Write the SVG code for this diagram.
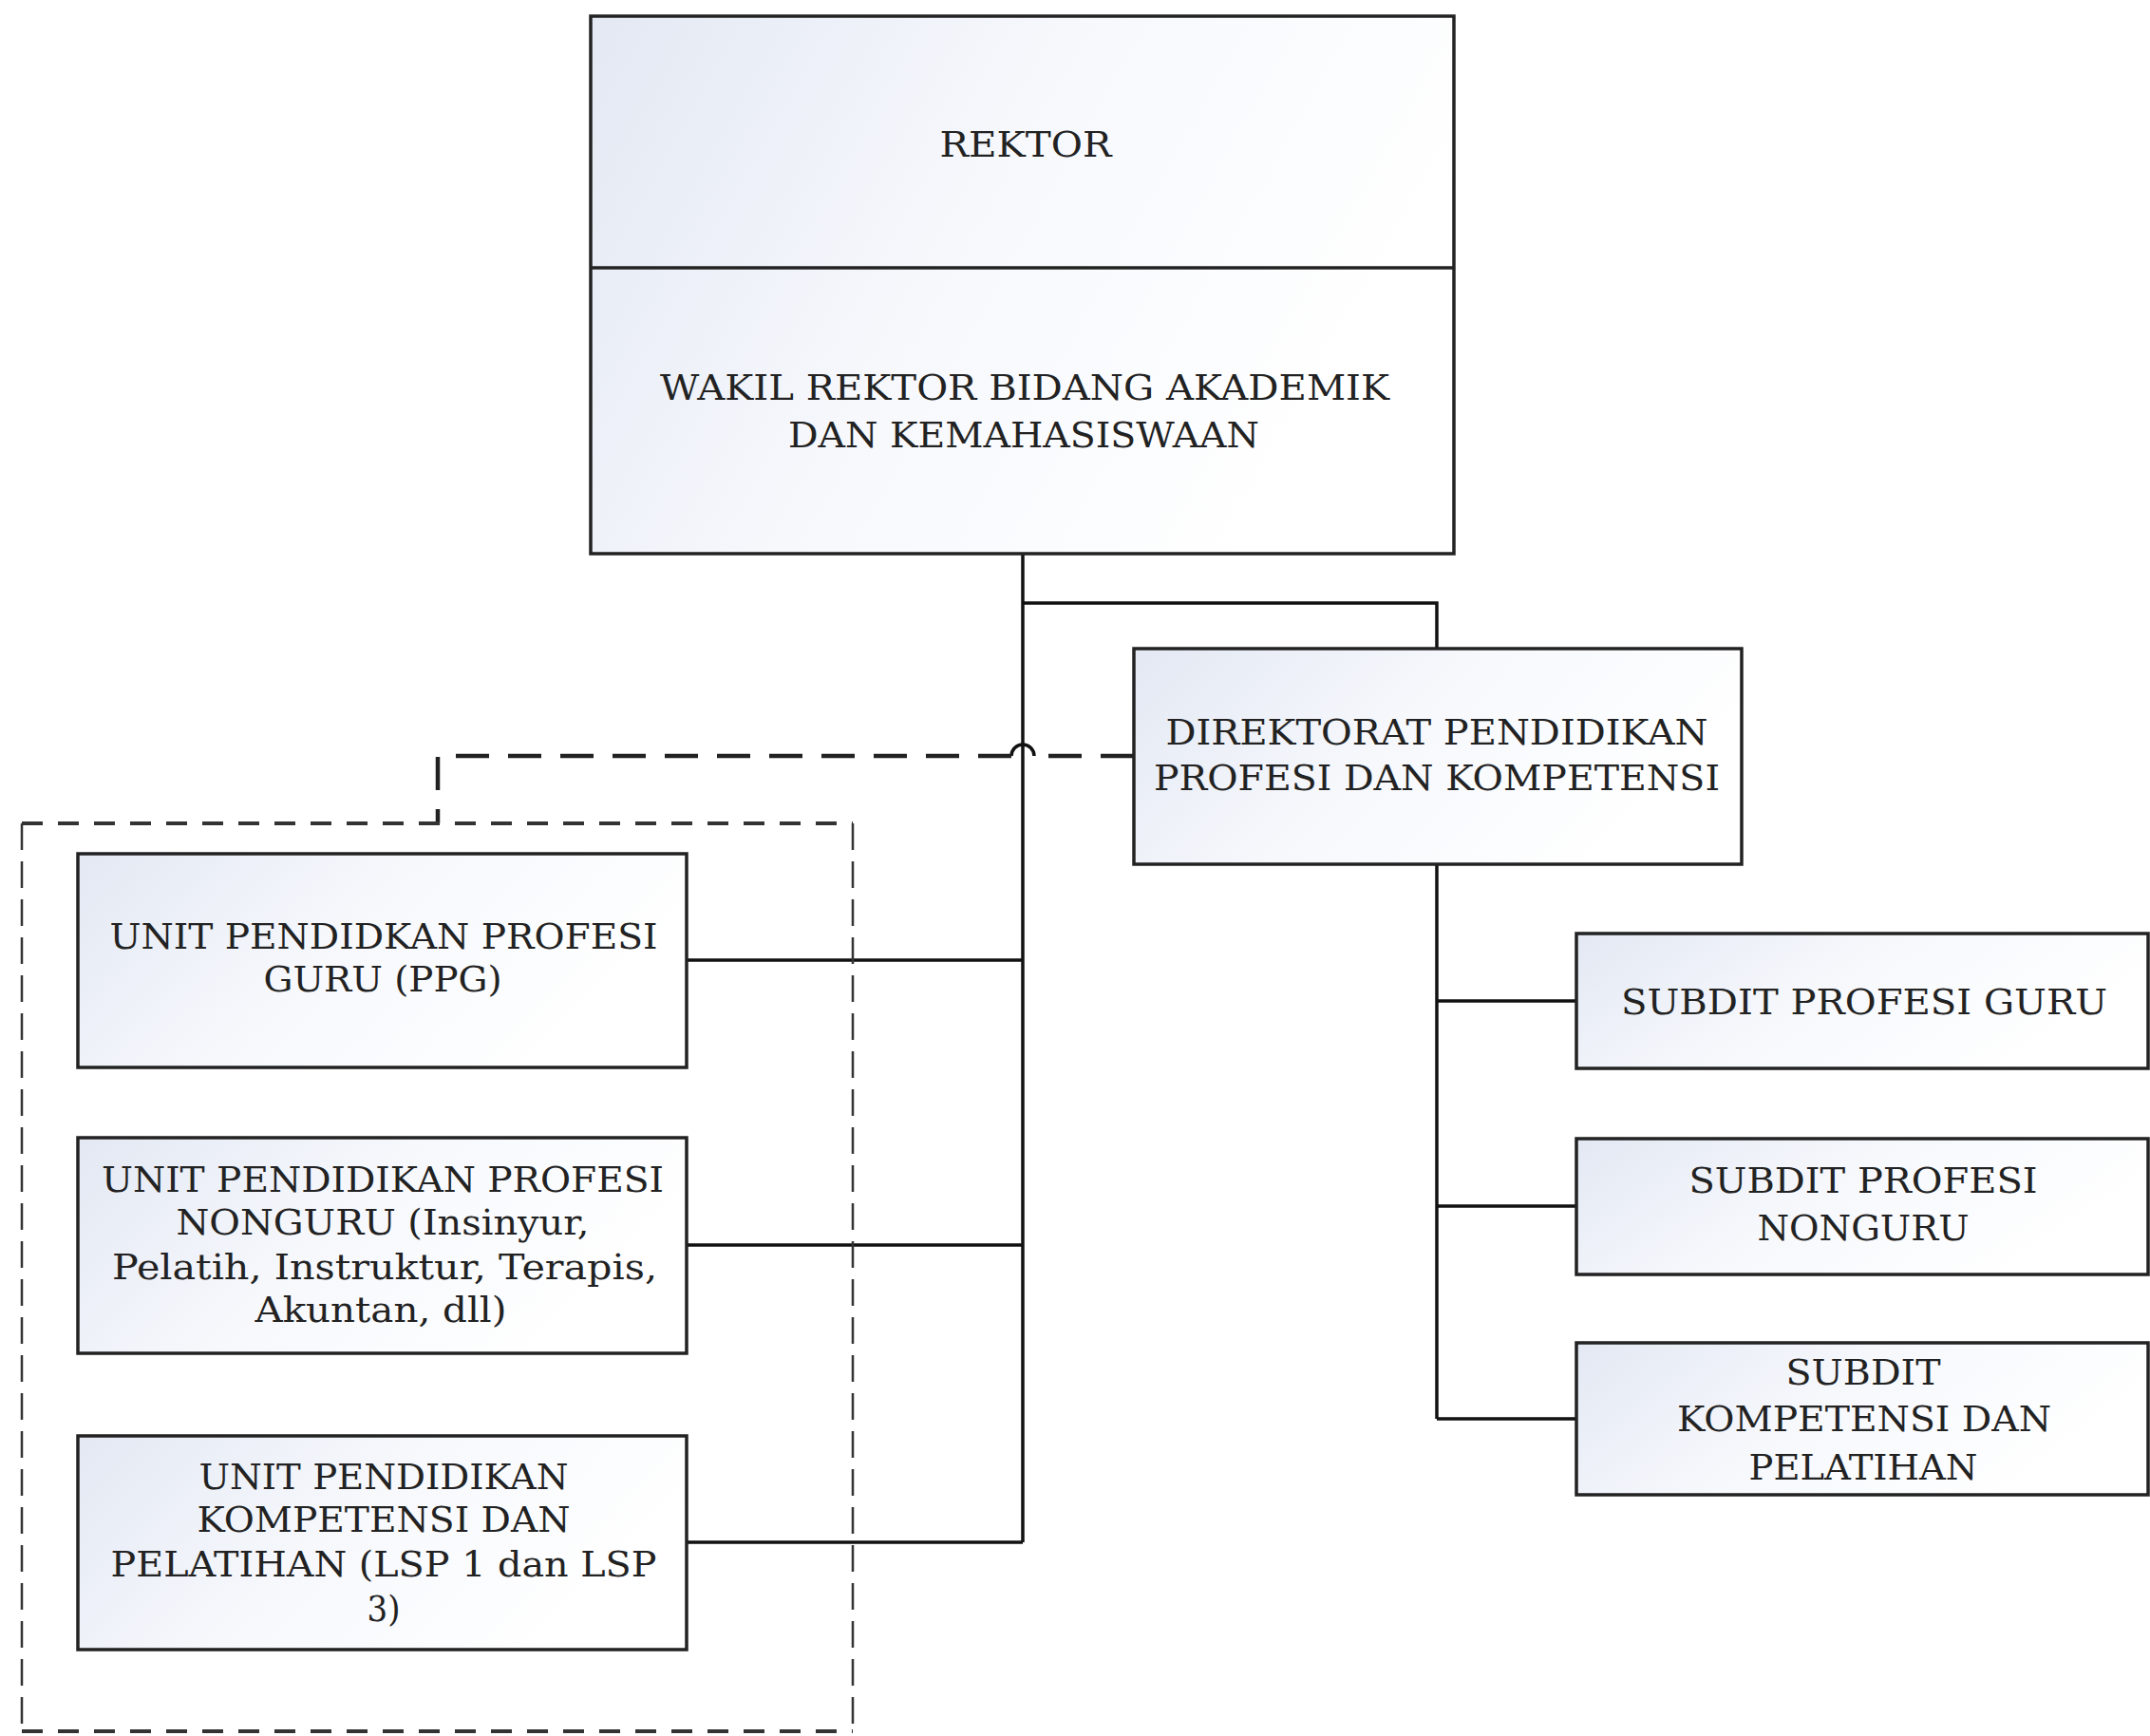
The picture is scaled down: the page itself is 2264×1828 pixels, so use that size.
<svg xmlns="http://www.w3.org/2000/svg" width="2264" height="1828" viewBox="0 0 2264 1828">
<defs>
<linearGradient id="fillG" x1="0" y1="0" x2="1" y2="0.35">
<stop offset="0" stop-color="#e3e8f3"/>
<stop offset="0.5" stop-color="#f6f8fc"/>
<stop offset="1" stop-color="#ffffff"/>
</linearGradient>
<style>
.box{fill:url(#fillG);stroke:#222;stroke-width:3.5}
.div{stroke:#222;stroke-width:3.5;fill:none}
.t{font-family:"DejaVu Serif","Liberation Serif",serif;font-size:38px;fill:#222;text-anchor:middle}
.c{stroke:#111;stroke-width:3.5;fill:none}
.dc{stroke:#222;stroke-width:4.5;fill:none;stroke-dasharray:35 20}
.dh{stroke:#333;stroke-width:4;fill:none;stroke-dasharray:22 16}
.dv{stroke:#333;stroke-width:2.5;fill:none;stroke-dasharray:28 12}
</style>
</defs>
<rect width="2264" height="1828" fill="#ffffff"/>

<g id="connectors">
<path class="c" d="M1077 583 V1624"/>
<path class="c" d="M1077 635 H1513 V683"/>
<path class="c" d="M1513 910 V1494"/>
<path class="c" d="M1513 1054 H1660"/>
<path class="c" d="M1513 1270 H1660"/>
<path class="c" d="M1513 1494 H1660"/>
<path class="c" d="M722 1011 H1077"/>
<path class="c" d="M722 1311 H1077"/>
<path class="c" d="M722 1624 H1077"/>
<path class="dc" d="M1194 796 H1089"/>
<path class="c" d="M1089 796 A12 12 0 0 0 1065 796"/>
<path class="dc" d="M1065 796 H461 V867"/>
</g>

<g id="group-dashed">
<path class="dh" d="M23 867 H898"/>
<path class="dh" d="M23 1823 H898"/>
<path class="dv" d="M23 867 V1823"/>
<path class="dv" d="M898 867 V1823"/>
</g>

<g id="node-rektor">
<rect class="box" x="622" y="17" width="909" height="566"/>
<path class="div" d="M622 282 H1531"/>
<text class="t" x="1080" y="165" textLength="181" lengthAdjust="spacingAndGlyphs">REKTOR</text>
<text class="t" x="1079" y="421" textLength="768" lengthAdjust="spacingAndGlyphs">WAKIL REKTOR BIDANG AKADEMIK</text>
<text class="t" x="1078" y="471" textLength="496" lengthAdjust="spacingAndGlyphs">DAN KEMAHASISWAAN</text>
</g>

<g id="node-direktorat">
<rect class="box" x="1194" y="683" width="640" height="227"/>
<text class="t" x="1513" y="784" textLength="571" lengthAdjust="spacingAndGlyphs">DIREKTORAT PENDIDIKAN</text>
<text class="t" x="1513" y="832" textLength="596" lengthAdjust="spacingAndGlyphs">PROFESI DAN KOMPETENSI</text>
</g>

<g id="node-subdit-guru">
<rect class="box" x="1660" y="983" width="602" height="142"/>
<text class="t" x="1963" y="1068" textLength="512" lengthAdjust="spacingAndGlyphs">SUBDIT PROFESI GURU</text>
</g>

<g id="node-subdit-nonguru">
<rect class="box" x="1660" y="1199" width="602" height="143"/>
<text class="t" x="1962" y="1256" textLength="367" lengthAdjust="spacingAndGlyphs">SUBDIT PROFESI</text>
<text class="t" x="1962" y="1306" textLength="223" lengthAdjust="spacingAndGlyphs">NONGURU</text>
</g>

<g id="node-subdit-kompetensi">
<rect class="box" x="1660" y="1414" width="602" height="160"/>
<text class="t" x="1962" y="1458" textLength="163" lengthAdjust="spacingAndGlyphs">SUBDIT</text>
<text class="t" x="1963" y="1507" textLength="394" lengthAdjust="spacingAndGlyphs">KOMPETENSI DAN</text>
<text class="t" x="1962" y="1558" textLength="241" lengthAdjust="spacingAndGlyphs">PELATIHAN</text>
</g>

<g id="node-unit-ppg">
<rect class="box" x="82" y="899" width="641" height="225"/>
<text class="t" x="404" y="999" textLength="577" lengthAdjust="spacingAndGlyphs">UNIT PENDIDKAN PROFESI</text>
<text class="t" x="403" y="1044" textLength="251" lengthAdjust="spacingAndGlyphs">GURU (PPG)</text>
</g>

<g id="node-unit-nonguru">
<rect class="box" x="82" y="1198" width="641" height="227"/>
<text class="t" x="403" y="1255" textLength="592" lengthAdjust="spacingAndGlyphs">UNIT PENDIDIKAN PROFESI</text>
<text class="t" x="403" y="1300" textLength="435" lengthAdjust="spacingAndGlyphs">NONGURU (Insinyur,</text>
<text class="t" x="405" y="1347" textLength="574" lengthAdjust="spacingAndGlyphs">Pelatih, Instruktur, Terapis,</text>
<text class="t" x="401" y="1392" textLength="265" lengthAdjust="spacingAndGlyphs">Akuntan, dll)</text>
</g>

<g id="node-unit-kompetensi">
<rect class="box" x="82" y="1512" width="641" height="225"/>
<text class="t" x="404" y="1568" textLength="389" lengthAdjust="spacingAndGlyphs">UNIT PENDIDIKAN</text>
<text class="t" x="404" y="1613" textLength="393" lengthAdjust="spacingAndGlyphs">KOMPETENSI DAN</text>
<text class="t" x="404" y="1660" textLength="575" lengthAdjust="spacingAndGlyphs">PELATIHAN (LSP 1 dan LSP</text>
<text class="t" x="404" y="1707" textLength="35" lengthAdjust="spacingAndGlyphs">3)</text>
</g>
</svg>
